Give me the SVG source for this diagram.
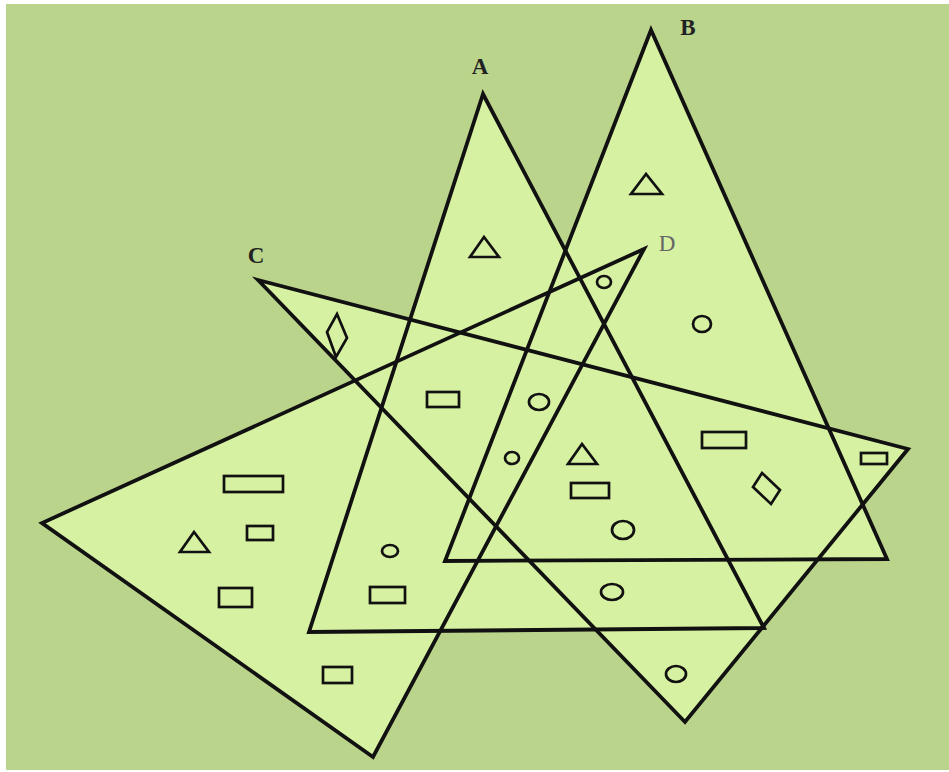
<svg xmlns="http://www.w3.org/2000/svg" width="949" height="772" viewBox="0 0 949 772">
<style>
.fill{fill:#d7f1a2;stroke:none}
.tri{fill:none;stroke:#111;stroke-width:3.8;stroke-linejoin:miter}
.s{fill:none;stroke:#111;stroke-width:2.7}
.lbl{font-family:"Liberation Serif","DejaVu Serif",serif;font-size:23px;font-weight:bold;fill:#222;text-anchor:middle}
</style>
<rect x="0" y="0" width="949" height="772" fill="#ffffff"/>
<rect x="6" y="4" width="943" height="766" fill="#bbd48c"/>
<g id="fills">
<polygon class="fill" points="483,94 309,632 764,628"/>
<polygon class="fill" points="651,30 445,561 887,559"/>
<polygon class="fill" points="258,280 908,449 685,722"/>
<polygon class="fill" points="644,249 42,523 373,757"/>
</g>
<g id="connectors">
<polygon class="tri" points="483,94 309,632 764,628"/>
<polygon class="tri" points="651,30 445,561 887,559"/>
<polygon class="tri" points="258,280 908,449 685,722"/>
<polygon class="tri" points="644,249 42,523 373,757"/>
</g>
<g id="labelA"><text class="lbl" x="480" y="74">A</text></g>
<g id="labelB"><text class="lbl" x="688" y="35">B</text></g>
<g id="labelC"><text class="lbl" x="256" y="263">C</text></g>
<g id="labelD"><text class="lbl" x="667" y="251" style="font-weight:normal;fill:#666">D</text></g>
<g id="shapes">
<polygon class="s" points="484,237 470,257 499,257"/>
<polygon class="s" points="646,174 631,194 662,194"/>
<polygon class="s" points="582,444 568,464 597,464"/>
<polygon class="s" points="194,532 180,552 209,552"/>
<polygon class="s" points="337,314 347,338 336,357 327,332"/>
<polygon class="s" points="762,473 780,490 771,504 753,487"/>
<rect class="s" x="427" y="392" width="32" height="15"/>
<rect class="s" x="571" y="483" width="38" height="15"/>
<rect class="s" x="702" y="432" width="44" height="16"/>
<rect class="s" x="861" y="453" width="26" height="11"/>
<rect class="s" x="224" y="476" width="59" height="16"/>
<rect class="s" x="247" y="526" width="26" height="14"/>
<rect class="s" x="219" y="588" width="33" height="19"/>
<rect class="s" x="323" y="667" width="29" height="16"/>
<rect class="s" x="370" y="587" width="35" height="16"/>
<ellipse class="s" cx="539" cy="402" rx="10" ry="8"/>
<ellipse class="s" cx="512" cy="458" rx="7" ry="6"/>
<ellipse class="s" cx="604" cy="282" rx="7" ry="6"/>
<ellipse class="s" cx="702" cy="324" rx="9" ry="8"/>
<ellipse class="s" cx="623" cy="530" rx="11" ry="9"/>
<ellipse class="s" cx="612" cy="592" rx="11" ry="8"/>
<ellipse class="s" cx="676" cy="674" rx="10" ry="8"/>
<ellipse class="s" cx="390" cy="551" rx="8" ry="6"/>
</g>
</svg>
